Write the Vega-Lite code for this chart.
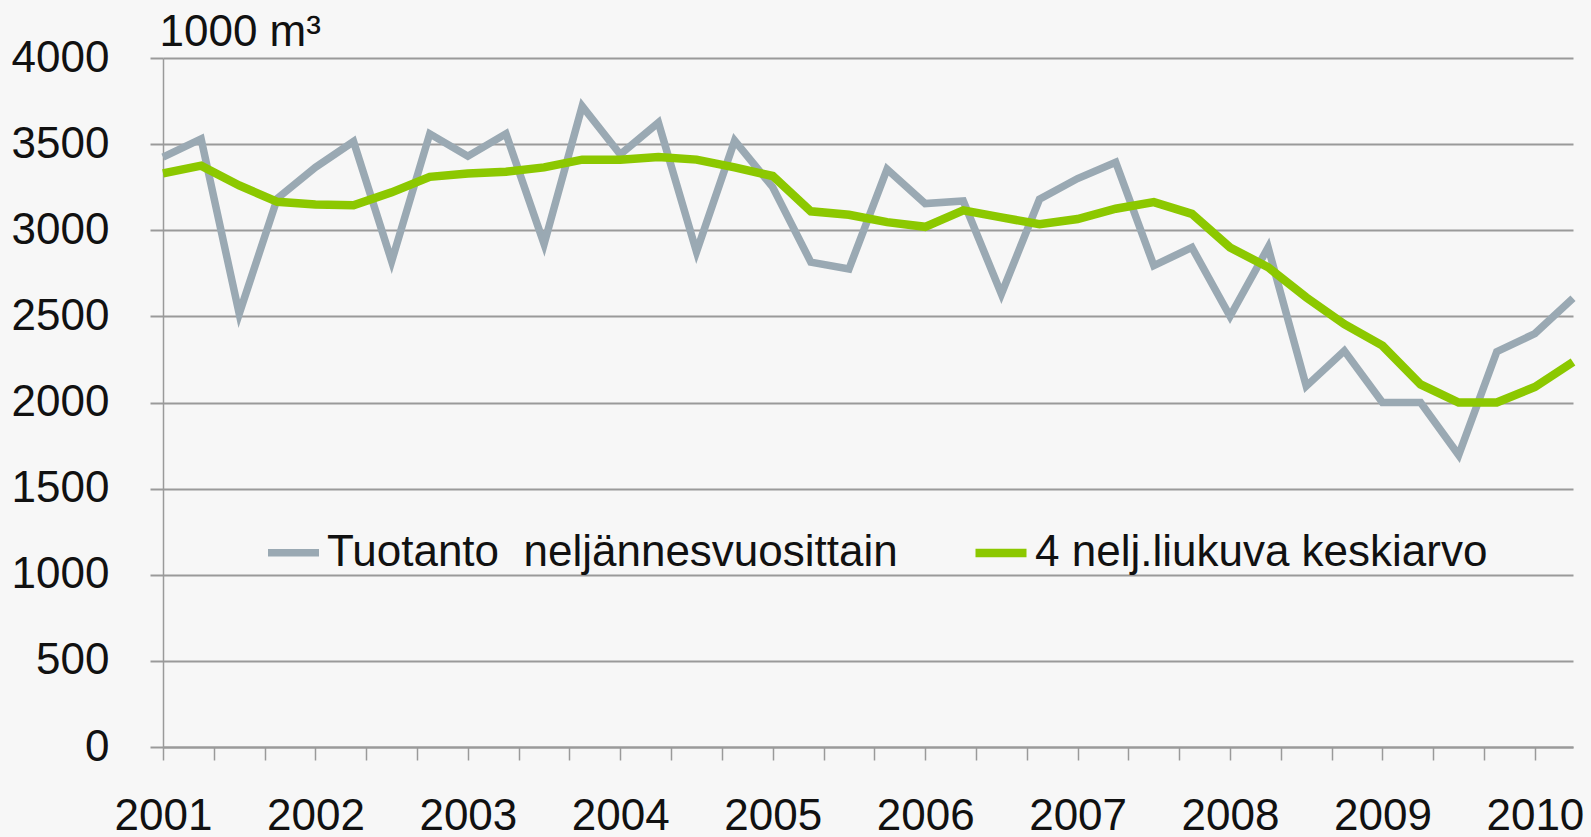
{
  "$schema": "https://vega.github.io/schema/vega-lite/v6.json",
  "autosize": {"type": "none"},
  "width": 1410,
  "height": 689,
  "padding": {"left": 163, "top": 58, "right": 18, "bottom": 90},
  "background": "#f7f7f7",
  "config": {
    "view": {"stroke": null},
    "font": "Liberation Sans"
  },
  "data": {
    "values": [
      {"t": 2001.00, "v": 3425, "s": "Tuotanto\u00a0 neljännesvuosittain"},
      {"t": 2001.25, "v": 3530, "s": "Tuotanto\u00a0 neljännesvuosittain"},
      {"t": 2001.50, "v": 2515, "s": "Tuotanto\u00a0 neljännesvuosittain"},
      {"t": 2001.75, "v": 3185, "s": "Tuotanto\u00a0 neljännesvuosittain"},
      {"t": 2002.00, "v": 3365, "s": "Tuotanto\u00a0 neljännesvuosittain"},
      {"t": 2002.25, "v": 3515, "s": "Tuotanto\u00a0 neljännesvuosittain"},
      {"t": 2002.50, "v": 2820, "s": "Tuotanto\u00a0 neljännesvuosittain"},
      {"t": 2002.75, "v": 3560, "s": "Tuotanto\u00a0 neljännesvuosittain"},
      {"t": 2003.00, "v": 3430, "s": "Tuotanto\u00a0 neljännesvuosittain"},
      {"t": 2003.25, "v": 3560, "s": "Tuotanto\u00a0 neljännesvuosittain"},
      {"t": 2003.50, "v": 2920, "s": "Tuotanto\u00a0 neljännesvuosittain"},
      {"t": 2003.75, "v": 3720, "s": "Tuotanto\u00a0 neljännesvuosittain"},
      {"t": 2004.00, "v": 3440, "s": "Tuotanto\u00a0 neljännesvuosittain"},
      {"t": 2004.25, "v": 3625, "s": "Tuotanto\u00a0 neljännesvuosittain"},
      {"t": 2004.50, "v": 2875, "s": "Tuotanto\u00a0 neljännesvuosittain"},
      {"t": 2004.75, "v": 3520, "s": "Tuotanto\u00a0 neljännesvuosittain"},
      {"t": 2005.00, "v": 3250, "s": "Tuotanto\u00a0 neljännesvuosittain"},
      {"t": 2005.25, "v": 2815, "s": "Tuotanto\u00a0 neljännesvuosittain"},
      {"t": 2005.50, "v": 2775, "s": "Tuotanto\u00a0 neljännesvuosittain"},
      {"t": 2005.75, "v": 3355, "s": "Tuotanto\u00a0 neljännesvuosittain"},
      {"t": 2006.00, "v": 3155, "s": "Tuotanto\u00a0 neljännesvuosittain"},
      {"t": 2006.25, "v": 3170, "s": "Tuotanto\u00a0 neljännesvuosittain"},
      {"t": 2006.50, "v": 2630, "s": "Tuotanto\u00a0 neljännesvuosittain"},
      {"t": 2006.75, "v": 3180, "s": "Tuotanto\u00a0 neljännesvuosittain"},
      {"t": 2007.00, "v": 3300, "s": "Tuotanto\u00a0 neljännesvuosittain"},
      {"t": 2007.25, "v": 3395, "s": "Tuotanto\u00a0 neljännesvuosittain"},
      {"t": 2007.50, "v": 2795, "s": "Tuotanto\u00a0 neljännesvuosittain"},
      {"t": 2007.75, "v": 2900, "s": "Tuotanto\u00a0 neljännesvuosittain"},
      {"t": 2008.00, "v": 2500, "s": "Tuotanto\u00a0 neljännesvuosittain"},
      {"t": 2008.25, "v": 2900, "s": "Tuotanto\u00a0 neljännesvuosittain"},
      {"t": 2008.50, "v": 2095, "s": "Tuotanto\u00a0 neljännesvuosittain"},
      {"t": 2008.75, "v": 2300, "s": "Tuotanto\u00a0 neljännesvuosittain"},
      {"t": 2009.00, "v": 2000, "s": "Tuotanto\u00a0 neljännesvuosittain"},
      {"t": 2009.25, "v": 2000, "s": "Tuotanto\u00a0 neljännesvuosittain"},
      {"t": 2009.50, "v": 1695, "s": "Tuotanto\u00a0 neljännesvuosittain"},
      {"t": 2009.75, "v": 2295, "s": "Tuotanto\u00a0 neljännesvuosittain"},
      {"t": 2010.00, "v": 2400, "s": "Tuotanto\u00a0 neljännesvuosittain"},
      {"t": 2010.25, "v": 2605, "s": "Tuotanto\u00a0 neljännesvuosittain"},
      {"t": 2001.00, "v": 3330, "s": "4 nelj.liukuva keskiarvo"},
      {"t": 2001.25, "v": 3375, "s": "4 nelj.liukuva keskiarvo"},
      {"t": 2001.50, "v": 3260, "s": "4 nelj.liukuva keskiarvo"},
      {"t": 2001.75, "v": 3165, "s": "4 nelj.liukuva keskiarvo"},
      {"t": 2002.00, "v": 3150, "s": "4 nelj.liukuva keskiarvo"},
      {"t": 2002.25, "v": 3145, "s": "4 nelj.liukuva keskiarvo"},
      {"t": 2002.50, "v": 3220, "s": "4 nelj.liukuva keskiarvo"},
      {"t": 2002.75, "v": 3310, "s": "4 nelj.liukuva keskiarvo"},
      {"t": 2003.00, "v": 3330, "s": "4 nelj.liukuva keskiarvo"},
      {"t": 2003.25, "v": 3340, "s": "4 nelj.liukuva keskiarvo"},
      {"t": 2003.50, "v": 3365, "s": "4 nelj.liukuva keskiarvo"},
      {"t": 2003.75, "v": 3410, "s": "4 nelj.liukuva keskiarvo"},
      {"t": 2004.00, "v": 3410, "s": "4 nelj.liukuva keskiarvo"},
      {"t": 2004.25, "v": 3425, "s": "4 nelj.liukuva keskiarvo"},
      {"t": 2004.50, "v": 3410, "s": "4 nelj.liukuva keskiarvo"},
      {"t": 2004.75, "v": 3365, "s": "4 nelj.liukuva keskiarvo"},
      {"t": 2005.00, "v": 3315, "s": "4 nelj.liukuva keskiarvo"},
      {"t": 2005.25, "v": 3110, "s": "4 nelj.liukuva keskiarvo"},
      {"t": 2005.50, "v": 3090, "s": "4 nelj.liukuva keskiarvo"},
      {"t": 2005.75, "v": 3047, "s": "4 nelj.liukuva keskiarvo"},
      {"t": 2006.00, "v": 3020, "s": "4 nelj.liukuva keskiarvo"},
      {"t": 2006.25, "v": 3115, "s": "4 nelj.liukuva keskiarvo"},
      {"t": 2006.50, "v": 3075, "s": "4 nelj.liukuva keskiarvo"},
      {"t": 2006.75, "v": 3035, "s": "4 nelj.liukuva keskiarvo"},
      {"t": 2007.00, "v": 3065, "s": "4 nelj.liukuva keskiarvo"},
      {"t": 2007.25, "v": 3125, "s": "4 nelj.liukuva keskiarvo"},
      {"t": 2007.50, "v": 3163, "s": "4 nelj.liukuva keskiarvo"},
      {"t": 2007.75, "v": 3095, "s": "4 nelj.liukuva keskiarvo"},
      {"t": 2008.00, "v": 2900, "s": "4 nelj.liukuva keskiarvo"},
      {"t": 2008.25, "v": 2785, "s": "4 nelj.liukuva keskiarvo"},
      {"t": 2008.50, "v": 2610, "s": "4 nelj.liukuva keskiarvo"},
      {"t": 2008.75, "v": 2455, "s": "4 nelj.liukuva keskiarvo"},
      {"t": 2009.00, "v": 2330, "s": "4 nelj.liukuva keskiarvo"},
      {"t": 2009.25, "v": 2105, "s": "4 nelj.liukuva keskiarvo"},
      {"t": 2009.50, "v": 2000, "s": "4 nelj.liukuva keskiarvo"},
      {"t": 2009.75, "v": 2000, "s": "4 nelj.liukuva keskiarvo"},
      {"t": 2010.00, "v": 2090, "s": "4 nelj.liukuva keskiarvo"},
      {"t": 2010.25, "v": 2235, "s": "4 nelj.liukuva keskiarvo"}
    ]
  },
  "mark": {"type": "line", "strokeJoin": "miter", "strokeCap": "butt"},
  "encoding": {
    "x": {
      "field": "t",
      "type": "quantitative",
      "scale": {"domain": [2001, 2010.25], "nice": false, "zero": false},
      "axis": {
        "title": null,
        "grid": false,
        "values": [2001, 2001.3333, 2001.6667, 2002, 2002.3333, 2002.6667, 2003, 2003.3333, 2003.6667, 2004, 2004.3333, 2004.6667, 2005, 2005.3333, 2005.6667, 2006, 2006.3333, 2006.6667, 2007, 2007.3333, 2007.6667, 2008, 2008.3333, 2008.6667, 2009, 2009.3333, 2009.6667, 2010],
        "labelExpr": "abs(datum.value - round(datum.value)) < 0.01 ? format(round(datum.value), 'd') : ''",
        "labelOverlap": false,
        "labelFlush": false,
        "labelFontSize": 44,
        "labelColor": "#111111",
        "labelPadding": 34,
        "tickSize": 13,
        "tickColor": "#9a9a9a",
        "tickWidth": 1.5,
        "domainColor": "#9a9a9a",
        "domainWidth": 2
      }
    },
    "y": {
      "field": "v",
      "type": "quantitative",
      "scale": {"domain": [0, 4000], "nice": false},
      "axis": {
        "title": "1000 m³",
        "titleAngle": 0,
        "titleX": -4,
        "titleY": -13,
        "titleAlign": "left",
        "titleBaseline": "alphabetic",
        "titleFontSize": 44,
        "titleFontWeight": "normal",
        "titleColor": "#111111",
        "values": [0, 500, 1000, 1500, 2000, 2500, 3000, 3500, 4000],
        "format": "d",
        "grid": true,
        "gridColor": "#9a9a9a",
        "gridWidth": 2,
        "labelFontSize": 44,
        "labelColor": "#111111",
        "labelPadding": 41,
        "tickSize": 13,
        "tickColor": "#9a9a9a",
        "tickWidth": 2,
        "domainColor": "#9a9a9a",
        "domainWidth": 1.5
      }
    },
    "color": {
      "field": "s",
      "type": "nominal",
      "sort": ["Tuotanto\u00a0 neljännesvuosittain", "4 nelj.liukuva keskiarvo"],
      "scale": {
        "domain": ["Tuotanto\u00a0 neljännesvuosittain", "4 nelj.liukuva keskiarvo"],
        "range": ["#9aa9b3", "#8cc800"]
      },
      "legend": {
        "title": null,
        "orient": "none",
        "direction": "horizontal",
        "legendX": 101,
        "legendY": 465,
        "padding": 0,
        "symbolType": "stroke",
        "symbolSize": 2601,
        "symbolStrokeWidth": 8,
        "labelFontSize": 44,
        "labelColor": "#111111",
        "labelOffset": 4,
        "columnPadding": 60,
        "labelLimit": 1000
      }
    },
    "strokeWidth": {
      "field": "s",
      "type": "nominal",
      "scale": {
        "domain": ["Tuotanto\u00a0 neljännesvuosittain", "4 nelj.liukuva keskiarvo"],
        "range": [7.5, 8.5]
      },
      "legend": null
    }
  }
}
